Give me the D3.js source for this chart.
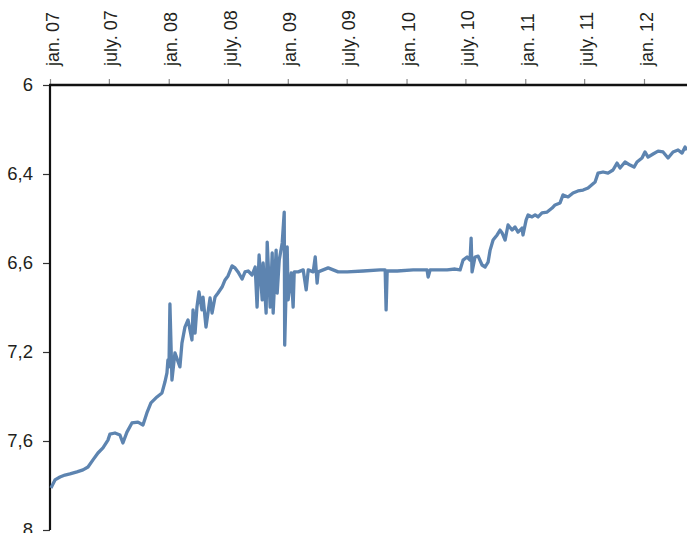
<!DOCTYPE html>
<html>
<head>
<meta charset="utf-8">
<style>
body { margin: 0; background: #fff; }
text { font-family: "Liberation Sans", Arial, sans-serif; fill: #231f20; }
.line { fill: none; stroke: #5d84b0; stroke-width: 3.3px; stroke-linejoin: round; }
</style>
<script src="https://cdn.jsdelivr.net/npm/d3@7"></script>
</head>
<body>
<svg width="687" height="533"></svg>
<script>

// time in decimal years
var years = [
  2007.008, 2007.042, 2007.084, 2007.126, 2007.168, 2007.227, 2007.278, 2007.320, 2007.362, 2007.404,
  2007.446, 2007.488, 2007.505, 2007.547, 2007.589, 2007.614, 2007.648, 2007.690, 2007.741, 2007.783,
  2007.816, 2007.850, 2007.901, 2007.943, 2007.968, 2007.985, 2007.993, 2008.002, 2008.010, 2008.027,
  2008.052, 2008.094, 2008.111, 2008.136, 2008.162, 2008.195, 2008.204, 2008.221, 2008.237, 2008.254,
  2008.279, 2008.288, 2008.313, 2008.347, 2008.364, 2008.389, 2008.414, 2008.448, 2008.473, 2008.498,
  2008.532, 2008.557, 2008.582, 2008.616, 2008.641, 2008.667, 2008.700, 2008.726, 2008.742, 2008.759,
  2008.785, 2008.793, 2008.818, 2008.827, 2008.852, 2008.869, 2008.877, 2008.902, 2008.911, 2008.928,
  2008.953, 2008.970, 2008.974, 2008.995, 2009.003, 2009.029, 2009.045, 2009.054, 2009.088, 2009.130,
  2009.155, 2009.172, 2009.214, 2009.231, 2009.247, 2009.256, 2009.340, 2009.424, 2009.500, 2009.635,
  2009.778, 2009.820, 2009.828, 2009.837, 2009.921, 2010.056, 2010.173, 2010.182, 2010.199, 2010.342,
  2010.409, 2010.451, 2010.476, 2010.510, 2010.535, 2010.544, 2010.552, 2010.577, 2010.603, 2010.636,
  2010.662, 2010.687, 2010.704, 2010.729, 2010.763, 2010.788, 2010.805, 2010.830, 2010.855, 2010.889,
  2010.914, 2010.939, 2010.973, 2010.981, 2011.007, 2011.024, 2011.057, 2011.083, 2011.108, 2011.141,
  2011.184, 2011.226, 2011.251, 2011.293, 2011.318, 2011.360, 2011.402, 2011.444, 2011.487, 2011.529,
  2011.588, 2011.613, 2011.655, 2011.697, 2011.739, 2011.773, 2011.798, 2011.840, 2011.882, 2011.916,
  2011.941, 2011.983, 2012.008, 2012.034, 2012.076, 2012.118, 2012.160, 2012.202, 2012.244, 2012.286,
  2012.320, 2012.345, 2012.362
];

var values = [
  7.811, 7.775, 7.762, 7.753, 7.748, 7.739, 7.730, 7.717, 7.685, 7.654,
  7.631, 7.596, 7.569, 7.564, 7.573, 7.609, 7.560, 7.519, 7.515, 7.528,
  7.474, 7.429, 7.402, 7.384, 7.335, 7.294, 7.236, 7.267, 6.984, 7.326,
  7.204, 7.267, 7.160, 7.088, 7.056, 7.146, 7.011, 7.115, 6.998, 6.930,
  7.011, 6.953, 7.088, 6.957, 7.025, 6.953, 6.935, 6.908, 6.876, 6.858,
  6.813, 6.822, 6.840, 6.872, 6.840, 6.836, 6.854, 6.818, 6.998, 6.764,
  6.966, 6.800, 7.025, 6.706, 6.998, 6.755, 7.025, 6.742, 6.935, 6.787,
  6.710, 6.571, 7.169, 6.728, 6.966, 6.845, 6.998, 6.840, 6.840, 6.831,
  6.921, 6.831, 6.840, 6.773, 6.890, 6.840, 6.822, 6.840, 6.840, 6.836,
  6.831, 6.831, 7.011, 6.836, 6.836, 6.831, 6.831, 6.863, 6.831, 6.831,
  6.827, 6.831, 6.787, 6.773, 6.787, 6.688, 6.840, 6.773, 6.769, 6.809,
  6.818, 6.796, 6.742, 6.697, 6.674, 6.652, 6.665, 6.697, 6.629, 6.652,
  6.638, 6.661, 6.643, 6.674, 6.607, 6.584, 6.593, 6.584, 6.593, 6.575,
  6.571, 6.553, 6.539, 6.530, 6.494, 6.503, 6.485, 6.476, 6.472, 6.463,
  6.436, 6.396, 6.391, 6.396, 6.382, 6.351, 6.373, 6.346, 6.360, 6.369,
  6.346, 6.328, 6.301, 6.324, 6.310, 6.297, 6.301, 6.328, 6.301, 6.292,
  6.306, 6.279, 6.292
];

var xTickDates = [
  [2007, 0], [2007, 6], [2008, 0], [2008, 6], [2009, 0], [2009, 6],
  [2010, 0], [2010, 6], [2011, 0], [2011, 6], [2012, 0]
];
var xTickLabels = ["jan. 07", "july. 07", "jan. 08", "july. 08", "jan. 09", "july. 09",
  "jan. 10", "july. 10", "jan. 11", "july. 11", "jan. 12"];

var yTicks = [6, 6.4, 6.8, 7.2, 7.6, 8];
var yTickLabels = ["6", "6,4", "6,6", "7,2", "7,6", "8"];

function toDate(t) {
  var yr = Math.floor(t),
      a = new Date(yr, 0, 1),
      b = new Date(yr + 1, 0, 1);
  return new Date(+a + (t - yr) * (b - a));
}

var data = years.map(function(t, i) { return { date: toDate(t), value: values[i] }; });

var svg = d3.select("svg"),
    mLeft = 50, mRight = 687, mTop = 85, mBottom = 530;

var x = d3.scaleTime()
    .domain([new Date(2007, 0, 1), new Date(2012, 0, 1)])
    .range([mLeft, 644]);

var y = d3.scaleLinear()
    .domain([6, 8])
    .range([mTop, mBottom]);

// top axis
var xAxis = svg.append("g")
    .attr("transform", "translate(0," + mTop + ")")
    .call(d3.axisTop(x)
      .tickValues(xTickDates.map(function(d) { return new Date(d[0], d[1], 1); }))
      .tickFormat(function(d, i) { return xTickLabels[i]; })
      .tickSize(6)
      .tickSizeOuter(0));
xAxis.select(".domain").remove();
xAxis.selectAll(".tick line").attr("stroke", "#8a8a8a").attr("stroke-width", 1.2);
xAxis.selectAll(".tick text")
    .attr("transform", "rotate(-90)")
    .attr("text-anchor", "start")
    .attr("x", 19)
    .attr("y", 0)
    .attr("dy", "0.45em")
    .style("font-size", "18px");

// left axis
var yAxis = svg.append("g")
    .attr("transform", "translate(" + mLeft + ",0)")
    .call(d3.axisLeft(y)
      .tickValues(yTicks)
      .tickFormat(function(d, i) { return yTickLabels[i]; })
      .tickSize(7)
      .tickSizeOuter(0));
yAxis.select(".domain").remove();
yAxis.selectAll(".tick line").attr("stroke", "#333").attr("stroke-width", 1.2);
yAxis.selectAll(".tick text")
    .attr("x", -17)
    .style("font-size", "18.5px");

svg.append("line")
    .attr("x1", mLeft).attr("x2", mLeft)
    .attr("y1", mTop).attr("y2", mBottom)
    .attr("stroke", "#111").attr("stroke-width", 2.2);

svg.append("line")
    .attr("x1", mLeft - 1).attr("x2", mRight)
    .attr("y1", mTop).attr("y2", mTop)
    .attr("stroke", "#111").attr("stroke-width", 2.6);

var line = d3.line()
    .x(function(d) { return x(d.date); })
    .y(function(d) { return y(d.value); });

svg.append("path")
    .datum(data)
    .attr("class", "line")
    .attr("d", line);

</script>
</body>
</html>
